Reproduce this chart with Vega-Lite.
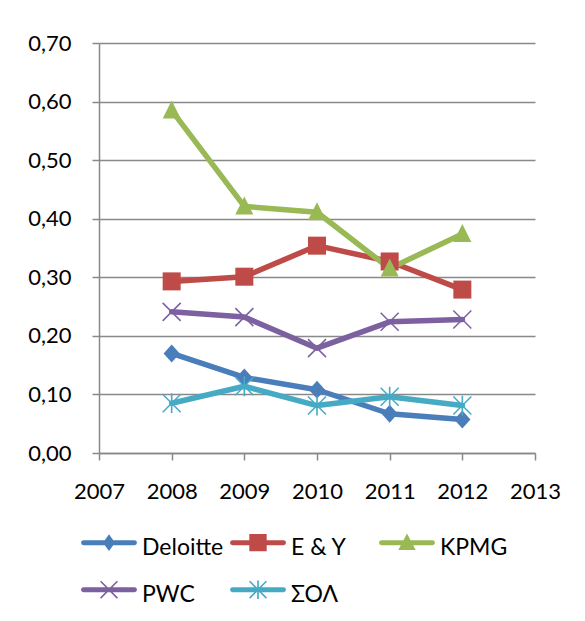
{
  "$schema": "https://vega.github.io/schema/vega-lite/v6.json",
  "width": 436,
  "height": 410,
  "autosize": "none",
  "padding": {"left": 99, "top": 43, "right": 50, "bottom": 168},
  "config": {
    "view": {"stroke": null},
    "font": "Lato"
  },
  "data": {
    "values": [
      {"series": "Deloitte", "year": 2008, "value": 0.170},
      {"series": "Deloitte", "year": 2009, "value": 0.129},
      {"series": "Deloitte", "year": 2010, "value": 0.108},
      {"series": "Deloitte", "year": 2011, "value": 0.067},
      {"series": "Deloitte", "year": 2012, "value": 0.057},
      {"series": "E & Y", "year": 2008, "value": 0.293},
      {"series": "E & Y", "year": 2009, "value": 0.301},
      {"series": "E & Y", "year": 2010, "value": 0.354},
      {"series": "E & Y", "year": 2011, "value": 0.327},
      {"series": "E & Y", "year": 2012, "value": 0.279},
      {"series": "KPMG", "year": 2008, "value": 0.585},
      {"series": "KPMG", "year": 2009, "value": 0.421},
      {"series": "KPMG", "year": 2010, "value": 0.411},
      {"series": "KPMG", "year": 2011, "value": 0.315},
      {"series": "KPMG", "year": 2012, "value": 0.374},
      {"series": "PWC", "year": 2008, "value": 0.241},
      {"series": "PWC", "year": 2009, "value": 0.232},
      {"series": "PWC", "year": 2010, "value": 0.179},
      {"series": "PWC", "year": 2011, "value": 0.224},
      {"series": "PWC", "year": 2012, "value": 0.228},
      {"series": "ΣΟΛ", "year": 2008, "value": 0.085},
      {"series": "ΣΟΛ", "year": 2009, "value": 0.114},
      {"series": "ΣΟΛ", "year": 2010, "value": 0.081},
      {"series": "ΣΟΛ", "year": 2011, "value": 0.096},
      {"series": "ΣΟΛ", "year": 2012, "value": 0.081}
    ]
  },
  "encoding": {
    "x": {
      "field": "year",
      "type": "quantitative",
      "scale": {"domain": [2007, 2013], "zero": false, "nice": false},
      "axis": {
        "title": null,
        "values": [2007, 2008, 2009, 2010, 2011, 2012, 2013],
        "format": "d",
        "grid": false,
        "domainColor": "#898989",
        "domainWidth": 1.5,
        "tickColor": "#898989",
        "tickWidth": 1.5,
        "tickSize": 7,
        "labelFont": "Lato",
        "labelFontSize": 22,
        "labelColor": "#000000",
        "labelPadding": 21,
        "labelFlush": false,
        "labelOverlap": false
      }
    },
    "y": {
      "field": "value",
      "type": "quantitative",
      "scale": {"domain": [0, 0.7], "nice": false, "zero": true},
      "axis": {
        "title": null,
        "values": [0, 0.1, 0.2, 0.3, 0.4, 0.5, 0.6, 0.7],
        "labelExpr": "replace(format(datum.value, '.2f'), '.', ',')",
        "grid": true,
        "gridColor": "#898989",
        "gridWidth": 1.5,
        "domainColor": "#898989",
        "domainWidth": 1.5,
        "tickColor": "#898989",
        "tickWidth": 1.5,
        "tickSize": 7,
        "labelFont": "Lato",
        "labelFontSize": 22,
        "labelColor": "#000000",
        "labelPadding": 21,
        "labelFlush": false,
        "labelOverlap": false
      }
    },
    "color": {
      "field": "series",
      "type": "nominal",
      "scale": {
        "domain": ["Deloitte", "E & Y", "KPMG", "PWC", "ΣΟΛ"],
        "range": ["#4A7EBB", "#BE4B48", "#98B954", "#7D60A0", "#46AAC5"]
      },
      "legend": {
        "title": null,
        "orient": "none",
        "legendX": -4,
        "legendY": 491,
        "direction": "horizontal",
        "columns": 3,
        "gridAlign": "all",
        "columnPadding": 6,
        "rowPadding": 20,
        "padding": 0,
        "symbolSize": 784,
        "labelOffset": 19,
        "labelFont": "Lato",
        "labelFontSize": 23,
        "labelColor": "#000000",
        "labelLimit": 300,
        "encode": {
          "symbols": {
            "update": {
              "shape": {"signal": "datum.value === 'Deloitte' ? 'M-1.82,-0.56L1.82,-0.56L1.95,-0.51L2,-0.38L1.95,-0.25L1.82,-0.2L-1.82,-0.2L-1.95,-0.25L-2,-0.38L-1.95,-0.51Z M0,-0.98L0.43,-0.38L0,0.22L-0.43,-0.38Z' : datum.value === 'E & Y' ? 'M-1.82,-0.56L1.82,-0.56L1.95,-0.51L2,-0.38L1.95,-0.25L1.82,-0.2L-1.82,-0.2L-1.95,-0.25L-2,-0.38L-1.95,-0.51Z M-0.62,-1L0.62,-1L0.62,0.24L-0.62,0.24Z' : datum.value === 'KPMG' ? 'M-1.82,-0.56L1.82,-0.56L1.95,-0.51L2,-0.38L1.95,-0.25L1.82,-0.2L-1.82,-0.2L-1.95,-0.25L-2,-0.38L-1.95,-0.51Z M0,-1.04L0.62,0.14L-0.62,0.14Z' : datum.value === 'PWC' ? 'M-1.82,-0.56L1.82,-0.56L1.95,-0.51L2,-0.38L1.95,-0.25L1.82,-0.2L-1.82,-0.2L-1.95,-0.25L-2,-0.38L-1.95,-0.51Z M-0.56,-1.02L0.64,0.18L0.56,0.26L-0.64,-0.94Z M0.56,-1.02L0.64,-0.94L-0.56,0.26L-0.64,0.18Z' : 'M-1.82,-0.56L1.82,-0.56L1.95,-0.51L2,-0.38L1.95,-0.25L1.82,-0.2L-1.82,-0.2L-1.95,-0.25L-2,-0.38L-1.95,-0.51Z M-0.56,-1.02L0.64,0.18L0.56,0.26L-0.64,-0.94Z M0.56,-1.02L0.64,-0.94L-0.56,0.26L-0.64,0.18Z M-0.06,-1.04L0.06,-1.04L0.06,0.28L-0.06,0.28Z'"},
              "fill": {"scale": "color", "field": "value"},
              "stroke": {"value": "transparent"},
              "strokeWidth": {"value": 0},
              "opacity": {"value": 1},
              "fillOpacity": {"value": 1},
              "size": {"value": 784}
            }
          }
        }
      }
    }
  },
  "layer": [
    {
      "mark": {"type": "line", "strokeWidth": 5.5, "strokeCap": "round", "strokeJoin": "round"},
      "encoding": {"detail": {"field": "series"}}
    },
    {
      "transform": [{"filter": "datum.series === 'Deloitte'"}],
      "mark": {"type": "point", "filled": true, "size": 324, "opacity": 1, "strokeWidth": 0, "shape": "M0,-1L0.9,0L0,1L-0.9,0Z"}
    },
    {
      "transform": [{"filter": "datum.series === 'E & Y'"}],
      "mark": {"type": "point", "filled": true, "size": 324, "opacity": 1, "strokeWidth": 0, "shape": "M-1,-1L1,-1L1,1L-1,1Z"}
    },
    {
      "transform": [{"filter": "datum.series === 'KPMG'"}],
      "mark": {"type": "point", "filled": true, "size": 324, "opacity": 1, "strokeWidth": 0, "shape": "M0,-1.1L1,0.9L-1,0.9Z"}
    },
    {
      "transform": [{"filter": "datum.series === 'PWC'"}],
      "mark": {"type": "point", "filled": true, "size": 324, "opacity": 1, "strokeWidth": 0, "shape": "M-0.94,-1.06L1.06,0.94L0.94,1.06L-1.06,-0.94Z M0.94,-1.06L1.06,-0.94L-0.94,1.06L-1.06,0.94Z"}
    },
    {
      "transform": [{"filter": "datum.series === 'ΣΟΛ'"}],
      "mark": {"type": "point", "filled": true, "size": 324, "opacity": 1, "strokeWidth": 0, "shape": "M-0.94,-1.06L1.06,0.94L0.94,1.06L-1.06,-0.94Z M0.94,-1.06L1.06,-0.94L-0.94,1.06L-1.06,0.94Z M-0.09,-1.1L0.09,-1.1L0.09,1.1L-0.09,1.1Z"}
    }
  ]
}
